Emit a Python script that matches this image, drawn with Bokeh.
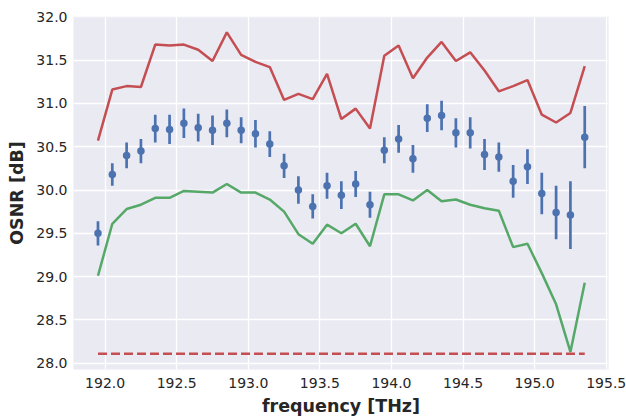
import numpy as np
from bokeh.plotting import figure
from bokeh.models import Range1d, FixedTicker, ColumnDataSource
from bokeh.embed import file_html
from bokeh.resources import INLINE

freq = [191.95, 192.05, 192.15, 192.25, 192.35, 192.45, 192.55, 192.65, 192.75, 192.85,
        192.95, 193.05, 193.15, 193.25, 193.35, 193.45, 193.55, 193.65, 193.75, 193.85,
        193.95, 194.05, 194.15, 194.25, 194.35, 194.45, 194.55, 194.65, 194.75, 194.85,
        194.95, 195.05, 195.15, 195.25, 195.35]

osnr_max = [30.57, 31.16, 31.20, 31.19, 31.68, 31.67, 31.68, 31.62, 31.49, 31.82,
            31.56, 31.48, 31.42, 31.04, 31.11, 31.05, 31.34, 30.82, 30.94, 30.71,
            31.55, 31.67, 31.29, 31.53, 31.71, 31.49, 31.59, 31.38, 31.14, 31.20,
            31.27, 30.87, 30.78, 30.89, 31.43]

osnr_mean = [29.50, 30.18, 30.40, 30.45, 30.71, 30.70, 30.77, 30.72, 30.69, 30.77,
             30.69, 30.65, 30.53, 30.28, 30.00, 29.81, 30.05, 29.94, 30.07, 29.83,
             30.46, 30.59, 30.36, 30.83, 30.86, 30.66, 30.66, 30.41, 30.38, 30.10,
             30.27, 29.96, 29.74, 29.71, 30.61]

osnr_err = [0.14, 0.13, 0.15, 0.14, 0.16, 0.17, 0.17, 0.16, 0.17, 0.16,
            0.15, 0.16, 0.15, 0.14, 0.16, 0.14, 0.15, 0.16, 0.15, 0.15,
            0.15, 0.16, 0.16, 0.16, 0.17, 0.17, 0.18, 0.18, 0.17, 0.19,
            0.20, 0.24, 0.31, 0.39, 0.36]

osnr_min = [29.01, 29.61, 29.78, 29.83, 29.91, 29.91, 29.99, 29.98, 29.97, 30.07,
            29.97, 29.97, 29.89, 29.75, 29.49, 29.38, 29.60, 29.50, 29.61, 29.35,
            29.95, 29.95, 29.88, 30.00, 29.87, 29.89, 29.83, 29.79, 29.76, 29.34,
            29.38, 29.04, 28.68, 28.13, 28.93]

threshold = 28.11

x_ticks = [192.0, 192.5, 193.0, 193.5, 194.0, 194.5, 195.0, 195.5]
y_ticks = [28.0, 28.5, 29.0, 29.5, 30.0, 30.5, 31.0, 31.5, 32.0]

BLUE = "#4C72B0"
GREEN = "#55A868"
RED = "#C44E52"
TXT = "#262626"
FONT = "DejaVu Sans"

p = figure(width=626, height=418,
           x_range=Range1d(191.779, 195.516), y_range=Range1d(27.927, 32.004),
           output_backend="svg", toolbar_location=None,
           min_border_left=73, min_border_right=18, min_border_top=16, min_border_bottom=49,
           background_fill_color="#EAEAF2", border_fill_color="white", outline_line_color=None)

src = ColumnDataSource(dict(
    x=freq, mx=osnr_max, mn=osnr_min, m=osnr_mean,
    lo=[a - b for a, b in zip(osnr_mean, osnr_err)],
    hi=[a + b for a, b in zip(osnr_mean, osnr_err)],
    th=[threshold] * len(freq)))

p.line("x", "mx", source=src, line_color=RED, line_width=2.5)
p.line("x", "mn", source=src, line_color=GREEN, line_width=2.5)
p.line("x", "th", source=src, line_color=RED, line_width=2.5, line_dash="9 4")
p.segment(x0="x", y0="lo", x1="x", y1="hi", source=src, line_color=BLUE, line_width=2.7)
p.scatter("x", "m", source=src, size=7.5, fill_color=BLUE, line_color=BLUE, line_width=0)

p.xaxis.ticker = FixedTicker(ticks=x_ticks)
p.yaxis.ticker = FixedTicker(ticks=y_ticks)
p.xaxis.major_label_overrides = {t: f"{t:.1f}" for t in x_ticks}
p.yaxis.major_label_overrides = {t: f"{t:.1f}" for t in y_ticks}

for ax in (p.xaxis, p.yaxis):
    ax.axis_line_color = None
    ax.major_tick_line_color = None
    ax.minor_tick_line_color = None
    ax.major_tick_out = 0
    ax.major_tick_in = 0
    ax.major_label_text_font = FONT
    ax.major_label_text_font_size = "14px"
    ax.major_label_text_color = TXT
    ax.axis_label_text_font = FONT
    ax.axis_label_text_font_size = "17.5px"
    ax.axis_label_text_font_style = "bold"
    ax.axis_label_text_color = TXT

p.xaxis.axis_label = "frequency [THz]"
p.yaxis.axis_label = "OSNR [dB]"
p.xaxis.major_label_standoff = 8
p.xaxis.axis_label_standoff = 5
p.yaxis.major_label_standoff = 6
p.yaxis.axis_label_standoff = 6

p.grid.grid_line_color = "white"
p.grid.grid_line_width = 1.3

open("out.html", "w").write(file_html(p, INLINE))
